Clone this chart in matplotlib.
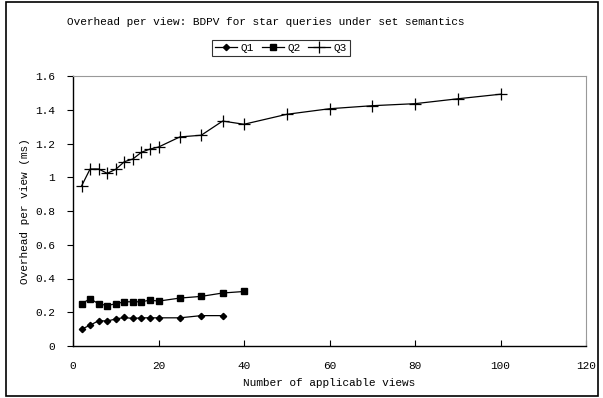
import matplotlib
matplotlib.use("Agg")
import matplotlib.pyplot as plt
from matplotlib.patches import Rectangle

# data
q1_x = [2, 4, 6, 8, 10, 12, 14, 16, 18, 20, 25, 30, 35]
q1_y = [0.10, 0.123, 0.15, 0.148, 0.16, 0.169, 0.163, 0.167, 0.167, 0.167, 0.167, 0.18, 0.18]

q2_x = [2, 4, 6, 8, 10, 12, 14, 16, 18, 20, 25, 30, 35, 40]
q2_y = [0.25, 0.28, 0.25, 0.24, 0.25, 0.262, 0.262, 0.262, 0.272, 0.266, 0.284, 0.294, 0.314, 0.323]

q3_x = [2, 4, 6, 8, 10, 12, 14, 16, 18, 20, 25, 30, 35, 40, 50, 60, 70, 80, 90, 100]
q3_y = [0.948, 1.049, 1.049, 1.023, 1.047, 1.092, 1.108, 1.148, 1.167, 1.179, 1.239, 1.249,
        1.333, 1.314, 1.373, 1.406, 1.424, 1.436, 1.465, 1.492]

x_ticks = [0, 20, 40, 60, 80, 100, 120]
y_ticks = [0, 0.2, 0.4, 0.6, 0.8, 1.0, 1.2, 1.4, 1.6]
y_labels = ["0", "0.2", "0.4", "0.6", "0.8", "1", "1.2", "1.4", "1.6"]

plt.rcParams['font.family'] = ['Liberation Mono', 'DejaVu Sans Mono']
plt.rcParams['font.size'] = 8

fig = plt.figure(figsize=(6.03, 3.98), dpi=100)
ax = fig.add_axes([73 / 603, 1 - 346 / 398, 513 / 603, 270 / 398])

ax.plot(q1_x, q1_y, color='black', lw=0.9, marker='D', ms=3.2, label='Q1')
ax.plot(q2_x, q2_y, color='black', lw=0.9, marker='s', ms=3.8, label='Q2')
ax.plot(q3_x, q3_y, color='black', lw=0.9, marker='+', ms=8, mew=0.9, label='Q3')

ax.set_xlim(0, 120)
ax.set_ylim(0, 1.6)
ax.set_xticks(x_ticks)
ax.set_yticks(y_ticks)
ax.set_yticklabels(y_labels)
ax.tick_params(axis='x', direction='in', length=4, width=0.8, pad=11)
ax.tick_params(axis='y', direction='out', length=4, width=0.8, pad=9)

for s in ['top', 'right']:
    ax.spines[s].set_color('#999999')
for s in ['left', 'bottom']:
    ax.spines[s].set_color('black')
    ax.spines[s].set_linewidth(1.0)

ax.set_xlabel("Number of applicable views", labelpad=5)
ax.set_ylabel("Overhead per view (ms)", labelpad=4)

fig.text(266 / 603, 1 - 22 / 398, "Overhead per view: BDPV for star queries under set semantics",
         ha='center', va='center')

leg = fig.legend(loc='center', bbox_to_anchor=(281 / 603, 1 - 48 / 398), ncol=3,
                 prop={'family': 'Liberation Mono', 'size': 8},
                 frameon=True, fancybox=False, handlelength=2.0, handletextpad=0.3,
                 columnspacing=0.7, borderpad=0.3, borderaxespad=0)
leg.get_frame().set_edgecolor('black')
leg.get_frame().set_linewidth(0.8)

fig.patches.append(Rectangle((6 / 603, 2 / 398), 592 / 603, 394 / 398, transform=fig.transFigure,
                             fill=False, edgecolor='black', lw=1.2))

fig.savefig("out.png", dpi=100)
